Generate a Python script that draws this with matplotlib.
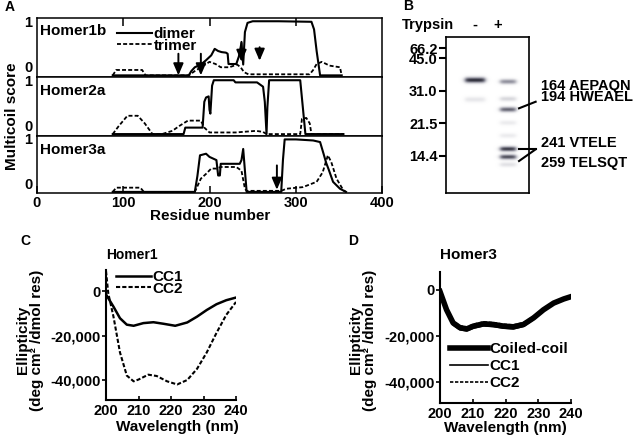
import numpy as np
import matplotlib
matplotlib.use("Agg")
import matplotlib.pyplot as plt
from matplotlib.colors import LinearSegmentedColormap

plt.rcParams.update({
    "font.family": ["Liberation Sans", "DejaVu Sans"],
    "font.weight": "bold",
    "axes.labelweight": "bold",
    "font.size": 10.5,
})

# ---- Panel A: multicoil scores (residue, score) ----
h1_dimer_res = [88, 176, 179, 183, 190, 196, 202, 206, 210, 214, 219, 221, 222, 231, 234, 237, 239, 241, 244, 250, 280, 318, 321, 324, 328, 353]
h1_dimer_val = [0, 0, 0.08, 0.15, 0.2, 0.28, 0.37, 0.49, 0.45, 0.43, 0.42, 0.4, 0.21, 0.21, 0.35, 0.6, 0.2, 0.8, 0.97, 1.0, 1.0, 0.99, 0.85, 0.45, 0.0, 0.0]
h1_trimer_res = [88, 92, 122, 126, 176, 183, 190, 200, 207, 213, 223, 232, 236, 240, 245, 316, 320, 324, 330, 339, 351, 353]
h1_trimer_val = [0, 0.1, 0.1, 0, 0, 0.08, 0.15, 0.25, 0.21, 0.15, 0.15, 0.2, 0.15, 0.06, 0.02, 0.02, 0.1, 0.21, 0.25, 0.18, 0.15, 0]

h2_dimer_res = [88, 170, 172, 192, 194, 196, 199, 200, 201, 203, 205, 228, 230, 255, 262, 264, 266, 267, 269, 305, 308, 311, 355]
h2_dimer_val = [0, 0, 0.12, 0.12, 0.6, 0.68, 0.7, 0.45, 0.38, 0.9, 1.0, 1.0, 0.96, 0.96, 0.88, 0.6, 0.0, 0.5, 1.0, 1.0, 0.5, 0, 0]
h2_trimer_res = [88, 95, 105, 117, 125, 134, 145, 157, 165, 175, 190, 194, 200, 230, 254, 262, 266, 305, 307, 312, 316, 318, 355]
h2_trimer_val = [0, 0.15, 0.34, 0.34, 0.2, 0.0, 0.0, 0.06, 0.15, 0.25, 0.25, 0.12, 0.03, 0.03, 0.06, 0.04, 0.0, 0.0, 0.28, 0.3, 0.2, 0.0, 0.0]

h3_dimer_res = [88, 183, 186, 189, 196, 200, 208, 210, 212, 213, 235, 237, 239, 241, 243, 283, 285, 287, 300, 320, 328, 332, 335, 338, 343, 351, 358]
h3_dimer_val = [0, 0, 0.3, 0.69, 0.72, 0.66, 0.6, 0.31, 0.31, 0.53, 0.53, 0.6, 0.81, 0.4, 0, 0, 0.6, 0.99, 0.99, 0.97, 0.94, 0.72, 0.55, 0.42, 0.19, 0.06, 0]
h3_trimer_res = [88, 92, 120, 124, 183, 190, 196, 202, 208, 213, 231, 237, 241, 243, 283, 289, 308, 324, 331, 337, 341, 347, 355, 358]
h3_trimer_val = [0, 0.08, 0.08, 0, 0, 0.25, 0.34, 0.44, 0.44, 0.47, 0.47, 0.4, 0.06, 0.02, 0.02, 0.06, 0.09, 0.19, 0.37, 0.69, 0.56, 0.25, 0.03, 0]

panel_names = ["Homer1b", "Homer2a", "Homer3a"]

# trypsin sites marked with arrows (residue, tail score, head score)
h1_arrow_res = [164, 190, 237, 258]
h1_arrow_from = [0.4, 0.4, 0.62, 0.52]
h1_arrow_to = [0.0, 0.0, 0.25, 0.27]
h3_arrow_res = [278]
h3_arrow_from = [0.5]
h3_arrow_to = [0.04]

# ---- Panel B: gel (migration as fraction of gel height) ----
marker_kda = ["66.2", "45.0", "31.0", "21.5", "14.4"]
marker_mig = [0.072, 0.137, 0.346, 0.553, 0.761]
minus_mig = [0.280, 0.404]
minus_int = [1.0, 0.12]
plus_mig = [0.290, 0.400, 0.468, 0.553, 0.635, 0.720, 0.771, 0.820]
plus_int = [0.55, 0.2, 0.75, 0.1, 0.1, 0.95, 0.85, 0.15]
peptides = ["164 AEPAQN", "194 HWEAEL", "241 VTELE", "259 TELSQT"]
peptide_mig = [0.314, 0.383, 0.678, 0.806]

# ---- Panels C and D: CD spectra ----
c_wl1 = [200, 202.3, 204.3, 206.4, 208.5, 211.5, 214.6, 217.7, 221.3, 225, 228, 231, 234, 237, 240]
c_cc1 = [-1500, -7000, -12200, -15100, -15600, -14400, -14000, -14700, -15600, -14100, -11500, -8500, -5900, -4100, -2900]
c_wl2 = [200, 200.7, 202.3, 204.3, 206.4, 208.5, 210, 213, 215.6, 218.8, 221.9, 225, 228, 231, 234, 237, 240]
c_cc2 = [9000, -1000, -11500, -27600, -38000, -40600, -39800, -37600, -38200, -40600, -42000, -40000, -35000, -27600, -18800, -10700, -4900]

d_wl = [200, 202, 204, 206.1, 208.2, 210.2, 213.3, 216.3, 219.4, 222.4, 225.5, 228.6, 231.6, 234.7, 237.8, 240]
d_coil = [-700, -8600, -14300, -16400, -16900, -15700, -14700, -15000, -15700, -16000, -15000, -12100, -8600, -5700, -3900, -2900]
d_cc1 = [-500, -9200, -15200, -17300, -17800, -16600, -15600, -15900, -16600, -16900, -15800, -12800, -9100, -6000, -4000, -2900]
d_cc2 = [-900, -8000, -13500, -15600, -16100, -14900, -13900, -14200, -14900, -15200, -14200, -11400, -8100, -5400, -3700, -2900]

W, H = 640, 436


def fx(x):
    return x / W


def fy(y):
    return 1 - y / H


fig = plt.figure(figsize=(6.4, 4.36), dpi=100)

# ---------------- Panel A ----------------
tops = [18, 77, 135.7]
bots = [77, 135.7, 193.5]
series = [
    (h1_dimer_res, h1_dimer_val, h1_trimer_res, h1_trimer_val),
    (h2_dimer_res, h2_dimer_val, h2_trimer_res, h2_trimer_val),
    (h3_dimer_res, h3_dimer_val, h3_trimer_res, h3_trimer_val),
]
name_y = [0.78, 0.767, 0.747]
axes_a = []
for i in range(3):
    ax = fig.add_axes([fx(36.7), fy(bots[i]), (382.3 - 36.7) / W, (bots[i] - tops[i]) / H])
    dr, dv, tr, tv = series[i]
    l1, = ax.plot(dr, dv, color="k", lw=1.5)
    l2, = ax.plot(tr, tv, color="k", lw=1.3, dashes=(2.2, 1.2))
    ax.set_xlim(0, 400)
    ax.set_ylim(-0.03, 1.06)
    ax.set_yticks([0, 1])
    ax.set_yticklabels(["0", "1"])
    ax.tick_params(axis="y", length=0, pad=3, labelsize=10.5)
    ax.yaxis.get_major_ticks()[0].label1.set_va("bottom")
    for s in ax.spines.values():
        s.set_linewidth(1.1)
    ax.text(0.01, name_y[i], panel_names[i], transform=ax.transAxes, va="center", fontsize=11)
    if i == 0:
        ax.set_xticks([100, 200, 300])
        ax.tick_params(axis="x", bottom=False, labelbottom=False, top=True,
                       direction="in", length=6, width=1.1)
        ax.legend([l1, l2], ["dimer", "trimer"], loc="upper left",
                  bbox_to_anchor=(0.232, 0.85), frameon=False, fontsize=11,
                  handlelength=2.3, handletextpad=0.1, labelspacing=-0.15,
                  borderpad=0, borderaxespad=0)
    elif i == 1:
        ax.set_xticks([])
    else:
        ax.set_xticks([0, 100, 200, 300, 400])
        ax.tick_params(axis="x", direction="in", length=5, width=1.1, pad=2, labelsize=10.5)
    axes_a.append(ax)

arrow_kw = dict(arrowstyle="-|>,head_width=0.3,head_length=0.7", color="k", lw=1.4,
                mutation_scale=10, shrinkA=0, shrinkB=0)
for r, a, b in zip(h1_arrow_res, h1_arrow_from, h1_arrow_to):
    axes_a[0].annotate("", xy=(r, b), xytext=(r, a), arrowprops=arrow_kw)
for r, a, b in zip(h3_arrow_res, h3_arrow_from, h3_arrow_to):
    axes_a[2].annotate("", xy=(r, b), xytext=(r, a), arrowprops=arrow_kw)

fig.text(fx(11.7), fy(116.7), "Multicoil score", rotation=90, ha="center", va="center", fontsize=11)
fig.text(fx(210), fy(216), "Residue number", ha="center", va="center", fontsize=11)

# ---------------- Panel B: gel ----------------
axg = fig.add_axes([fx(446), fy(193), 83 / W, 156 / H])
ny, nx = 312, 166
yy = np.linspace(0, 1, ny)[:, None]
xx = np.linspace(0, 1, nx)[None, :]
gel = np.zeros((ny, nx))


def lane_profile(center, half):
    return 1 / (1 + np.exp((np.abs(xx - center) - half) / 0.015))


for m, a in zip(minus_mig, minus_int):
    gel += a * np.exp(-((yy - m) / 0.017) ** 2) * lane_profile(0.35, 0.12)
for m, a in zip(plus_mig, plus_int):
    gel += a * np.exp(-((yy - m) / 0.015) ** 2) * lane_profile(0.75, 0.095)
gel_cmap = LinearSegmentedColormap.from_list("gel", ["#ffffff", "#9a9aa6", "#2e2e3a"])
axg.imshow(np.clip(gel, 0, 1), cmap=gel_cmap, vmin=0, vmax=1, extent=[0, 1, 1, 0],
           aspect="auto", interpolation="bilinear")
axg.set_xlim(0, 1)
axg.set_ylim(1, 0)
axg.set_xticks([])
axg.set_yticks(marker_mig)
axg.set_yticklabels(marker_kda)
axg.tick_params(axis="y", direction="out", length=5.3, width=1.5, pad=0.8, labelsize=10.5)
for s in axg.spines.values():
    s.set_linewidth(1.2)

for txt, m in zip(peptides, peptide_mig):
    axg.text(1.145, m, txt, va="center", ha="left", fontsize=10.5, clip_on=False)
axg.plot([0.88, 1.08], [plus_mig[2] - 0.011, 0.415], color="k", lw=1.5, clip_on=False)
axg.plot([0.88, 1.08], [plus_mig[5], plus_mig[5]], color="k", lw=1.5, clip_on=False)
axg.plot([0.88, 1.08], [plus_mig[6] + 0.024, plus_mig[5]], color="k", lw=1.5, clip_on=False)

fig.text(fx(402), fy(25), "Trypsin", ha="left", va="center", fontsize=10.5)
fig.text(fx(475), fy(25), "-", ha="center", va="center", fontsize=10.5)
fig.text(fx(498), fy(25), "+", ha="center", va="center", fontsize=10.5)


# ---------------- Panels C and D ----------------
def cd_axes(ax, ylim):
    ax.set_xlim(200, 240)
    ax.set_ylim(*ylim)
    ax.spines["top"].set_visible(False)
    ax.spines["right"].set_visible(False)
    for s in ("left", "bottom"):
        ax.spines[s].set_linewidth(1.5)
    ax.set_xticks([200, 210, 220, 230, 240])
    ax.set_yticks([0, -20000, -40000])
    ax.set_yticklabels(["0", "-20,000", "-40,000"])
    ax.tick_params(axis="x", direction="in", length=3, width=1.2, pad=3, labelsize=10.5)
    ax.tick_params(axis="y", direction="out", length=3, width=1.2, pad=1, labelsize=10.5)
    ax.set_xlabel("Wavelength (nm)", fontsize=11)
    ax.set_ylabel("Ellipticity\n(deg cm\u00b2 /dmol res)", fontsize=11, linespacing=1.0)


axc = fig.add_axes([fx(106), fy(400), 130 / W, 130 / H])
cd_axes(axc, (-49000, 9500))
axc.xaxis.set_label_coords(0.55, -0.15)
axc.yaxis.set_label_coords(-0.477, 0.46)
lc1, = axc.plot(c_wl1, c_cc1, color="k", lw=1.8)
lc2, = axc.plot(c_wl2, c_cc2, color="k", lw=1.5, dashes=(2, 1))
axc.text(0, 1.115, "Homer1", transform=axc.transAxes, ha="left", va="center", fontsize=10)
axc.legend([lc1, lc2], ["CC1", "CC2"], loc="upper left", bbox_to_anchor=(0.077, 1.0),
           frameon=False, fontsize=11, handlelength=2.3, handletextpad=0.1,
           labelspacing=-0.15, borderpad=0, borderaxespad=0)

axd = fig.add_axes([fx(440), fy(403), 131 / W, 131 / H])
cd_axes(axd, (-49100, 7800))
axd.xaxis.set_label_coords(0.5, -0.14)
axd.yaxis.set_label_coords(-0.48, 0.48)
ld0, = axd.plot(d_wl, d_coil, color="k", lw=4)
ld1, = axd.plot(d_wl, d_cc1, color="k", lw=1.2)
ld2, = axd.plot(d_wl, d_cc2, color="k", lw=1.2, dashes=(2, 1))
axd.text(0, 1.13, "Homer3", transform=axd.transAxes, ha="left", va="center", fontsize=11)
axd.legend([ld0, ld1, ld2], ["Coiled-coil", "CC1", "CC2"], loc="upper left",
           bbox_to_anchor=(0.076, 0.465), frameon=False, fontsize=11, handlelength=2.5,
           handletextpad=0.1, labelspacing=0.2, borderpad=0, borderaxespad=0)

# panel letters
fig.text(fx(5), fy(7), "A", ha="left", va="center", fontsize=10)
fig.text(fx(403), fy(6), "B", ha="left", va="center", fontsize=10)
fig.text(fx(20), fy(241), "C", ha="left", va="center", fontsize=10)
fig.text(fx(348), fy(241), "D", ha="left", va="center", fontsize=10)

fig.savefig("out.png", dpi=100)
